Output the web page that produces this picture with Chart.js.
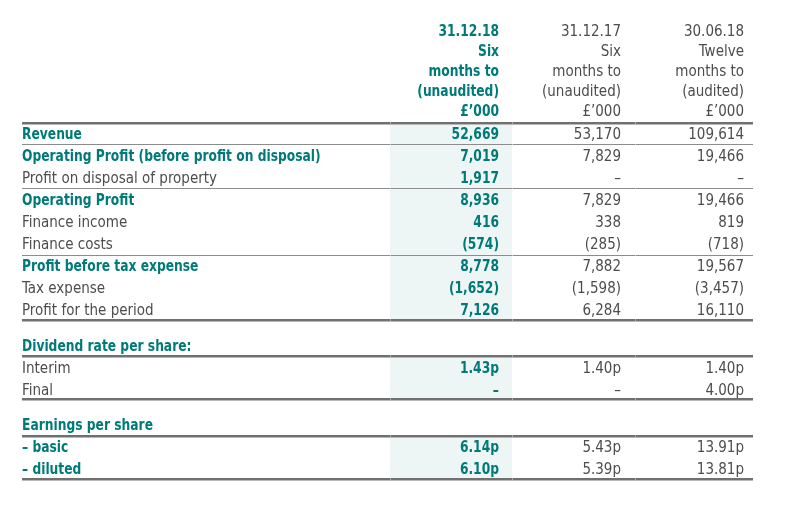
<!DOCTYPE html>
<html>
<head>
<meta charset="utf-8">
<script src="https://cdn.jsdelivr.net/npm/chart.js@4.4.0/dist/chart.umd.min.js"></script>
<style>
  html, body { margin: 0; padding: 0; background: #ffffff; }
  #tabla { display: block; }
</style>
</head>
<body>
<canvas id="tabla" width="788" height="508"></canvas>
<script>
// column headers (one array per column, top to bottom)
const cabecera1 = ['31.12.18', 'Six', 'months to', '(unaudited)', '£’000'];
const cabecera2 = ['31.12.17', 'Six', 'months to', '(unaudited)', '£’000'];
const cabecera3 = ['30.06.18', 'Twelve', 'months to', '(audited)', '£’000'];

// income statement, £'000 (null = dash)
const filas = ['Revenue', 'Operating Profit (before profit on disposal)', 'Profit on disposal of property',
  'Operating Profit', 'Finance income', 'Finance costs', 'Profit before tax expense', 'Tax expense',
  'Profit for the period'];
const seis18 = [52669, 7019, 1917, 8936, 416, -574, 8778, -1652, 7126];
const seis17 = [53170, 7829, null, 7829, 338, -285, 7882, -1598, 6284];
const doce18 = [109614, 19466, null, 19466, 819, -718, 19567, -3457, 16110];

// dividend rate per share, pence
const filasDividendo = ['Interim', 'Final'];
const dividendo18 = [1.43, null];
const dividendo17 = [1.40, null];
const dividendoAnual = [1.40, 4.00];

// earnings per share, pence
const filasBeneficio = ['– basic', '– diluted'];
const beneficio18 = [6.14, 6.10];
const beneficio17 = [5.43, 5.39];
const beneficioAnual = [13.91, 13.81];

const tituloDividendo = 'Dividend rate per share:';
const tituloBeneficio = 'Earnings per share';

document.addEventListener('DOMContentLoaded', function() {
    const verde = '#007a78';
    const gris = '#4d4d4d';
    const fuente = '"Liberation Sans Narrow", "DejaVu Sans Condensed", sans-serif';
    const tam = 15;
    const estrechoNegrita = 0.91; // bold face is narrower in the original

    // layout of the columns (x in canvas units)
    const xEtiqueta = 22, xCol = [499, 621, 744], xFin = 753;
    const sombra = [390, 512];
    const cortes = [390, 512, 635];

    // row positions in row units
    const pasoCab = 0.905;
    const yDividendo = 10.6, yBeneficio = 14.2;
    const negritaFilas = [true, true, false, true, false, false, true, false, false];

    function formato(v) {
        if (v === null) return '–';
        const s = Math.abs(v).toLocaleString('en-GB');
        return v < 0 ? '(' + s + ')' : s;
    }
    function peniques(v) {
        return v === null ? '–' : v.toFixed(2) + 'p';
    }

    const etiquetas = [];
    const col = [[], [], []];

    // headers
    [cabecera1, cabecera2, cabecera3].forEach(function(cab, c) {
        cab.forEach(function(t, k) {
            col[c].push({ x: xCol[c], y: -1.04 - (cab.length - 1 - k) * pasoCab, t: t, b: c === 0, alinear: 'right' });
        });
    });

    filas.forEach(function(f, i) {
        etiquetas.push({ x: xEtiqueta, y: i, t: f, b: negritaFilas[i], alinear: 'left' });
        [seis18, seis17, doce18].forEach(function(serie, c) {
            col[c].push({ x: xCol[c], y: i, t: formato(serie[i]), b: c === 0, alinear: 'right' });
        });
    });

    etiquetas.push({ x: xEtiqueta, y: yDividendo - 0.98, t: tituloDividendo, b: true, alinear: 'left' });
    filasDividendo.forEach(function(f, i) {
        etiquetas.push({ x: xEtiqueta, y: yDividendo + i, t: f, b: false, alinear: 'left' });
        [dividendo18, dividendo17, dividendoAnual].forEach(function(serie, c) {
            col[c].push({ x: xCol[c], y: yDividendo + i, t: peniques(serie[i]), b: c === 0, alinear: 'right' });
        });
    });

    etiquetas.push({ x: xEtiqueta, y: yBeneficio - 0.99, t: tituloBeneficio, b: true, alinear: 'left' });
    filasBeneficio.forEach(function(f, i) {
        etiquetas.push({ x: xEtiqueta, y: yBeneficio + i, t: f, b: true, alinear: 'left' });
        [beneficio18, beneficio17, beneficioAnual].forEach(function(serie, c) {
            col[c].push({ x: xCol[c], y: yBeneficio + i, t: peniques(serie[i]), b: c === 0, alinear: 'right' });
        });
    });

    // sections: [top rule, bottom rule, thin rules]
    const secciones = [
        [-0.45, filas.length - 1 + 0.45, [0.5, 2.5, 5.5]],
        [yDividendo - 0.5, yDividendo + 1 + 0.45, []],
        [yBeneficio - 0.5, yBeneficio + 1 + 0.45, []]
    ];

    const dibujarTabla = {
        id: 'dibujarTabla',
        beforeDatasetsDraw(chart) {
            const ctx = chart.ctx;
            const x = chart.scales.x, y = chart.scales.y;
            ctx.save();
            // shaded first column
            ctx.fillStyle = '#edf6f5';
            secciones.forEach(function(s) {
                const y0 = y.getPixelForValue(s[0]), y1 = y.getPixelForValue(s[1]);
                ctx.fillRect(x.getPixelForValue(sombra[0]), y0, x.getPixelForValue(sombra[1]) - x.getPixelForValue(sombra[0]), y1 - y0);
            });
            function regla(v, grueso) {
                const py = Math.round(y.getPixelForValue(v));
                const a = x.getPixelForValue(xEtiqueta), b = x.getPixelForValue(xFin);
                if (grueso) {
                    ctx.fillStyle = '#707070';
                    ctx.fillRect(a, py - 1, b - a, 2);
                    ctx.fillStyle = '#b8b8b8';
                    ctx.fillRect(a, py + 1, b - a, 1);
                } else {
                    ctx.fillStyle = '#8c8c8c';
                    ctx.fillRect(a, py, b - a, 1);
                }
                // faint joins between cells
                ctx.fillStyle = grueso ? '#a8a8a8' : '#c4c4c4';
                cortes.forEach(function(c) {
                    ctx.fillRect(x.getPixelForValue(c), grueso ? py - 1 : py, 1, grueso ? 2 : 1);
                });
            }
            secciones.forEach(function(s) {
                regla(s[0], true);
                regla(s[1], true);
                s[2].forEach(function(v) { regla(v, false); });
            });
            ctx.restore();
        },
        afterDatasetsDraw(chart) {
            const ctx = chart.ctx;
            chart.data.datasets.forEach(function(ds, i) {
                const meta = chart.getDatasetMeta(i);
                meta.data.forEach(function(el, j) {
                    const p = ds.data[j];
                    ctx.save();
                    ctx.textBaseline = 'alphabetic';
                    ctx.font = (p.b ? 'bold ' : '') + tam + 'px ' + fuente;
                    ctx.fillStyle = p.b ? verde : gris;
                    ctx.textAlign = p.alinear;
                    ctx.translate(el.x, el.y + tam * 0.37);
                    if (p.b) ctx.scale(estrechoNegrita, 1);
                    ctx.fillText(p.t, 0, 0);
                    ctx.restore();
                });
            });
        }
    };

    // 22.1 px per row, Revenue row at y = 133
    const pxFila = 22.1;
    const yMin = -133 / pxFila;
    const yMax = yMin + 508 / pxFila;

    new Chart(document.getElementById('tabla').getContext('2d'), {
        type: 'scatter',
        data: {
            datasets: [
                { label: 'Rows', data: etiquetas },
                { label: '31.12.18', data: col[0] },
                { label: '31.12.17', data: col[1] },
                { label: '30.06.18', data: col[2] }
            ]
        },
        options: {
            responsive: false,
            animation: false,
            layout: { padding: 0 },
            elements: { point: { radius: 0, hoverRadius: 0 } },
            plugins: { legend: { display: false }, tooltip: { enabled: false } },
            scales: {
                x: { type: 'linear', min: 0, max: 788, display: false },
                y: { type: 'linear', min: yMin, max: yMax, reverse: true, display: false }
            }
        },
        plugins: [dibujarTabla]
    });
});
</script>
</body>
</html>
